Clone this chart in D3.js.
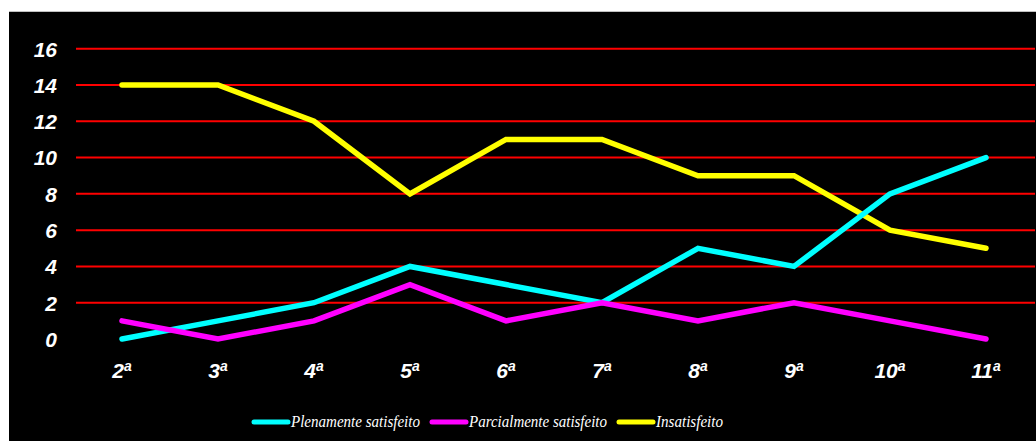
<!DOCTYPE html>
<html><head><meta charset="utf-8">
<script src="https://cdn.jsdelivr.net/npm/d3@7"></script>
<style>html,body{margin:0;padding:0;background:#fff;}svg{display:block;}</style>
</head><body>
<svg id="c" width="1036" height="441"></svg>
<script>
const categories = ["2", "3", "4", "5", "6", "7", "8", "9", "10", "11"];
const plenamente = [0, 1, 2, 4, 3, 2, 5, 4, 8, 10];
const parcialmente = [1, 0, 1, 3, 1, 2, 1, 2, 1, 0];
const insatisfeito = [14, 14, 12, 8, 11, 11, 9, 9, 6, 5];
const yTicks = [0, 2, 4, 6, 8, 10, 12, 14, 16];
const seriesNames = ["Plenamente satisfeito", "Parcialmente satisfeito", "Insatisfeito"];
const seriesColors = ["#00FFFF", "#FF00FF", "#FFFF00"];

const svg = d3.select("#c");
svg.append("rect").attr("x", 9).attr("y", 11).attr("width", 1027).attr("height", 430).attr("fill", "#000");
svg.append("line").attr("x1", 9).attr("x2", 1036).attr("y1", 11.5).attr("y2", 11.5).attr("stroke", "#c0c0c0").attr("stroke-width", 1);

const x = d3.scaleBand().domain(categories).range([74, 1034]);
const y = d3.scaleLinear().domain([0, 16]).range([339, 48.7]);

// gridlines
svg.append("g").selectAll("line").data(yTicks.filter(d => d > 0)).join("line")
  .attr("x1", 76).attr("x2", 1035)
  .attr("y1", d => y(d)).attr("y2", d => y(d))
  .attr("stroke", "#FF0000").attr("stroke-width", 2);

// y axis
const yAxis = d3.axisLeft(y).tickValues(yTicks).tickSize(0).tickPadding(0);
const gy = svg.append("g").attr("transform", "translate(57,0)").call(yAxis);
gy.select(".domain").remove();
gy.selectAll("text").attr("fill", "#fff").attr("font-family", "Liberation Sans, Arial, sans-serif")
  .attr("font-size", 21).attr("font-weight", "bold").attr("font-style", "italic").attr("dy", "0.35em");

// x axis
const xAxis = d3.axisBottom(x).tickSize(0).tickPadding(0).tickFormat(d => d);
const gx = svg.append("g").attr("transform", "translate(0,371)").call(xAxis);
gx.select(".domain").remove();
gx.selectAll("text").text(null).attr("fill", "#fff").attr("font-family", "Liberation Sans, Arial, sans-serif")
  .attr("font-size", 21).attr("font-weight", "bold").attr("font-style", "italic").attr("dy", "0.35em")
  .each(function(d) {
    const t = d3.select(this);
    t.append("tspan").text(d);
    t.append("tspan").text("a").attr("font-size", 14).attr("dy", "-0.5em");
  });

// lines
const allSeries = [plenamente, parcialmente, insatisfeito];
const line = d3.line().x((d, i) => x(categories[i]) + x.bandwidth() / 2).y(d => y(d));
svg.append("g").selectAll("path").data([2, 0, 1]).join("path")
  .attr("d", k => line(allSeries[k]))
  .attr("fill", "none").attr("stroke", k => seriesColors[k]).attr("stroke-width", 5.5)
  .attr("stroke-linejoin", "miter").attr("stroke-linecap", "round");

// legend
const legendX = [252, 430, 617];
const legendW = [129, 138, 67];
const lg = svg.append("g");
seriesNames.forEach((n, i) => {
  lg.append("line").attr("x1", legendX[i] + 2).attr("x2", legendX[i] + 36).attr("y1", 422).attr("y2", 422)
    .attr("stroke", seriesColors[i]).attr("stroke-width", 5).attr("stroke-linecap", "round");
  lg.append("text").attr("x", legendX[i] + 39).attr("y", 427).text(n)
    .attr("fill", "#fff").attr("font-family", "Liberation Serif, Times New Roman, serif")
    .attr("font-size", 16).attr("font-style", "italic")
    .attr("textLength", legendW[i]).attr("lengthAdjust", "spacingAndGlyphs");
});
</script>
</body></html>
